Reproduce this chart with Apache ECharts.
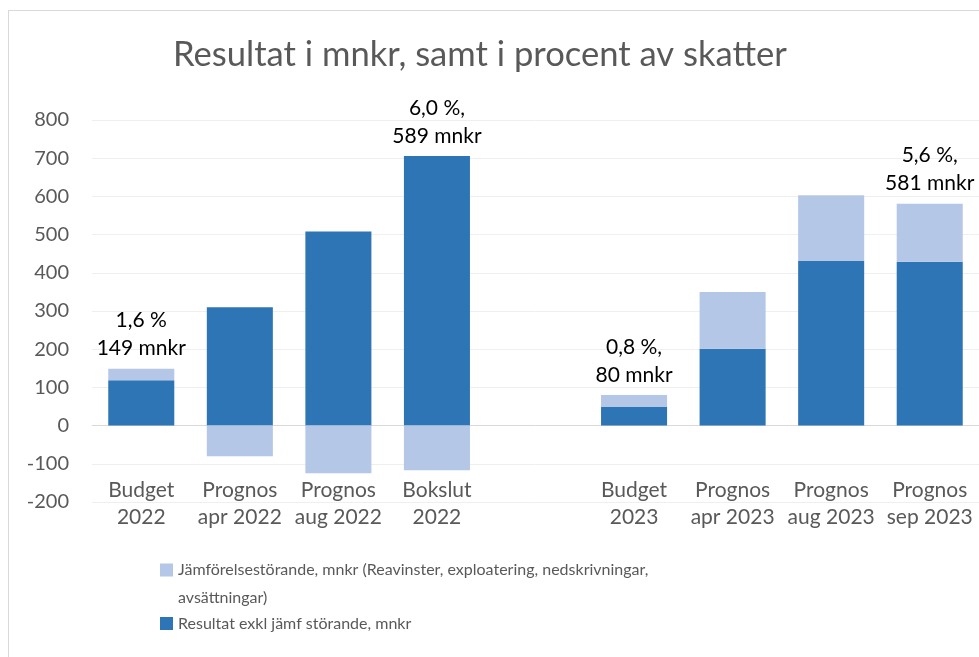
<!DOCTYPE html>
<html>
<head>
<meta charset="utf-8">
<script src="https://cdn.jsdelivr.net/npm/echarts@6/dist/echarts.min.js"></script>
<style>
  html, body { margin: 0; padding: 0; background: #fff; }
  #frame { position: absolute; left: 8px; top: 10px; width: 1000px; height: 700px;
           border-left: 1px solid #d9d9d9; border-top: 1px solid #d9d9d9; }
  #chart { position: absolute; left: 0; top: 0; width: 979px; height: 657px; }
</style>
</head>
<body>
<div id="frame"></div>
<div id="chart"></div>
<script>
// kategorier, tom plats mellan 2022 och 2023
const categories = ['Budget\n2022', 'Prognos\napr 2022', 'Prognos\naug 2022', 'Bokslut\n2022', '',
  'Budget\n2023', 'Prognos\napr 2023', 'Prognos\naug 2023', 'Prognos\nsep 2023']
const resultatExkl = [119, 310, 508, 706, null, 49, 201, 431, 429]
const jamforelse = [30, -80, -125, -117, null, 31, 149, 172, 152]
const summaryLabels = ['1,6 %\n149 mnkr', '', '', '6,0 %,\n589 mnkr', '', '0,8 %,\n80 mnkr', '', '', '5,6 %,\n581 mnkr']
const yTicks = { min: -200, max: 800, interval: 100 }

const nameJamf = 'Jämförelsestörande, mnkr (Reavinster, exploatering, nedskrivningar,\navsättningar)'
const nameRes = 'Resultat exkl jämf störande, mnkr'

const FONT = 'Lato'
const labelStyle = { show: true, position: 'top', distance: 6, color: '#000', fontSize: 21, lineHeight: 28, fontFamily: FONT }

// etikett sitter på den stapeldel som ligger överst
const resData = resultatExkl.map((v, i) => {
  const top = summaryLabels[i] && !(jamforelse[i] > 0)
  return top ? { value: v, label: Object.assign({}, labelStyle, { formatter: summaryLabels[i] }) } : v
})
const jamData = jamforelse.map((v, i) => {
  const top = summaryLabels[i] && jamforelse[i] > 0
  return top ? { value: v, label: Object.assign({}, labelStyle, { formatter: summaryLabels[i] }) } : v
})

const chart = echarts.init(document.getElementById('chart'))
chart.setOption({
  animation: false,
  textStyle: { fontFamily: FONT },
  title: {
    text: 'Resultat i mnkr, samt i procent av skatter',
    left: 168, top: 32,
    textStyle: { fontSize: 34.6, fontWeight: 'normal', color: '#595959', fontFamily: FONT }
  },
  legend: [
    {
      // tom första rad så att ikonen hamnar vid första textraden
      data: [nameJamf], orient: 'vertical', left: 160, top: 528, padding: 0,
      itemWidth: 13, itemHeight: 13, icon: 'rect',
      formatter: name => ' \n' + name,
      textStyle: { fontSize: 16, color: '#595959', lineHeight: 28, fontFamily: FONT }
    },
    {
      data: [nameRes], orient: 'vertical', left: 160, top: 610, padding: 0,
      itemWidth: 13, itemHeight: 13, icon: 'rect',
      textStyle: { fontSize: 16, color: '#595959', lineHeight: 27, fontFamily: FONT }
    }
  ],
  grid: { left: 92, right: 0, top: 120, bottom: 155, containLabel: false },
  xAxis: {
    type: 'category',
    data: categories,
    axisLine: { onZero: true, lineStyle: { color: '#d9d9d9' } },
    axisTick: { show: false },
    axisLabel: { margin: -25, fontSize: 21, lineHeight: 27, color: '#595959', fontFamily: FONT, interval: 0 }
  },
  yAxis: {
    type: 'value',
    min: yTicks.min, max: yTicks.max, interval: yTicks.interval,
    axisLine: { show: false },
    axisTick: { show: false },
    axisLabel: { margin: 23, fontSize: 20, color: '#595959', fontFamily: FONT },
    splitLine: { lineStyle: { color: '#efefef', width: 1 } }
  },
  series: [
    {
      name: nameRes, type: 'bar', stack: 'tot', data: resData,
      barCategoryGap: '33%',
      itemStyle: { color: '#2e75b6' }
    },
    {
      name: nameJamf, type: 'bar', stack: 'tot', data: jamData,
      barCategoryGap: '33%',
      itemStyle: { color: '#b4c7e7' }
    }
  ]
})
</script>
</body>
</html>
